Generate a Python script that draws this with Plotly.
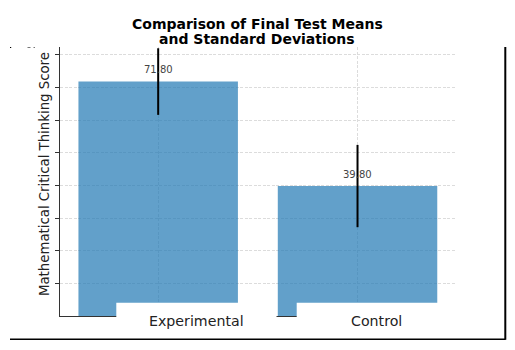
import plotly.graph_objects as go

groups = ["Experimental", "Control"]
means = [71.80, 39.80]
sds = [10.2, 12.6]
ytick_vals = [10, 20, 30, 40, 50, 60, 70, 80]
title_lines = ["Comparison of Final Test Means", "and Standard Deviations"]
ylabel = "Mathematical Critical Thinking Score"

W, H = 515, 350
L, R, T, B = 60, 59, 47, 34
PW, PH = W - L - R, H - T - B


def pxx(x):
    return (x - L) / PW


def pxy(y):
    return (H - B - y) / PH


fig = go.Figure(
    go.Bar(
        x=groups,
        y=means,
        width=0.8,
        marker=dict(color="#1f77b4", opacity=0.7, line=dict(width=0)),
        error_y=dict(type="data", array=sds, color="black", thickness=2, width=0),
        hoverinfo="skip",
    )
)

annotations = []
for g, m in zip(groups, means):
    annotations.append(dict(x=g, y=m, xref="x", yref="y", text=f"{m:.2f}",
                            showarrow=False, yanchor="middle", yshift=12,
                            font=dict(family="DejaVu Sans", size=10, color="#444")))

# title, two lines
for line, cy in zip(title_lines, [23.5, 39]):
    annotations.append(dict(x=pxx(257), y=pxy(cy), xref="paper", yref="paper",
                            text="<b>" + line + "</b>", showarrow=False,
                            xanchor="center", yanchor="middle",
                            font=dict(family="DejaVu Sans", size=14, color="black")))

# y-axis title
annotations.append(dict(x=pxx(44), y=pxy(174), xref="paper", yref="paper", text=ylabel,
                        textangle=-90, showarrow=False, xanchor="center", yanchor="middle",
                        font=dict(family="DejaVu Sans", size=13.3, color="#222")))
# category labels with white boxes
label_centers = [196, 376]
for g, cx in zip(groups, label_centers):
    annotations.append(dict(x=pxx(cx), y=pxy(321), xref="paper", yref="paper", text=g,
                            showarrow=False, xanchor="center", yanchor="middle",
                            font=dict(family="DejaVu Sans", size=14.2, color="#222")))

shapes = [
    # white label boxes covering bar bottoms
    dict(type="rect", xref="paper", yref="paper", x0=pxx(116.3), x1=pxx(276.5),
         y0=pxy(334), y1=pxy(302.7), fillcolor="white", line=dict(width=0), layer="above"),
    dict(type="rect", xref="paper", yref="paper", x0=pxx(296.7), x1=pxx(457),
         y0=pxy(334), y1=pxy(302.7), fillcolor="white", line=dict(width=0), layer="above"),
    # outer frame pieces
    dict(type="line", xref="paper", yref="paper", x0=pxx(10), x1=pxx(505.5),
         y0=pxy(339.3), y1=pxy(339.3), line=dict(color="black", width=1.6), layer="above"),
    dict(type="line", xref="paper", yref="paper", x0=pxx(505.3), x1=pxx(505.3),
         y0=pxy(47), y1=pxy(339.8), line=dict(color="black", width=2), layer="above"),
    dict(type="line", xref="paper", yref="paper", x0=pxx(10), x1=pxx(11.2),
         y0=pxy(47.5), y1=pxy(47.5), line=dict(color="black", width=1.2), layer="above"),
    dict(type="line", xref="paper", yref="paper", x0=pxx(27.5), x1=pxx(35),
         y0=pxy(47.5), y1=pxy(47.5), line=dict(color="#777", width=1, dash="dot"), layer="above"),
]

fig.update_layout(
    width=W, height=H,
    margin=dict(l=L, r=R, t=T, b=B, pad=0),
    paper_bgcolor="white", plot_bgcolor="white",
    showlegend=False,
    xaxis=dict(type="category", range=[-0.4925, 1.494], showticklabels=False, ticks="",
               showgrid=True, gridcolor="#dcdcdc", griddash="3px,1.5px", gridwidth=0.8,
               showline=True, linecolor="#333", linewidth=1.2, zeroline=False),
    yaxis=dict(range=[0, 269 / 3.265], tickvals=ytick_vals, showticklabels=False,
               ticks="outside", ticklen=4, tickcolor="#333", tickwidth=1,
               showgrid=True, gridcolor="#dcdcdc", griddash="3px,1.5px", gridwidth=0.8,
               showline=True, linecolor="#333", linewidth=1.2, zeroline=False),
    annotations=annotations,
    shapes=shapes,
    bargap=0.2,
)

fig.write_html("out.html")
